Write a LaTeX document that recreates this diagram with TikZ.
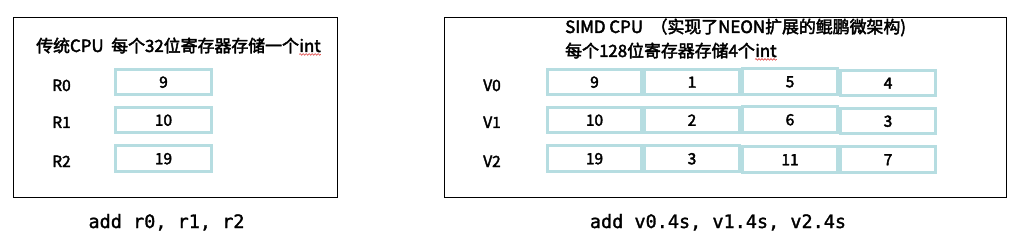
\documentclass[tikz,border=0pt]{standalone}
\usepackage{fontspec}
\setmainfont{Noto Sans CJK SC}[RawFeature={embolden=2.5}]
\setmonofont{DejaVu Sans Mono}[RawFeature={embolden=1.5}]
\usetikzlibrary{decorations.pathmorphing}
\definecolor{cellc}{HTML}{B6DDE1}
\definecolor{squig}{HTML}{E03C3C}
\begin{document}
\begin{tikzpicture}[x=1pt,y=-1pt,
  panel/.style={draw=black, line width=0.9pt, anchor=north west, inner sep=0pt},
  cell/.style={draw=cellc, line width=3pt, inner sep=0pt, minimum height=25.5pt,
    text height=11.5pt, text depth=0pt, font=\fontsize{15.5}{15.5}\selectfont},
  reglabel/.style={anchor=base, inner sep=0pt, font=\fontsize{15.5}{15.5}\selectfont},
  titletext/.style={anchor=base west, inner sep=0pt, font=\fontsize{16.9}{16.9}\selectfont},
  code/.style={anchor=base, inner sep=0pt, font=\ttfamily\fontsize{18.5}{18.5}\selectfont},
  spell/.style={draw=squig, line width=0.6pt, decorate,
    decoration={snake, amplitude=0.8pt, segment length=3pt}}]
\useasboundingbox (0,0) rectangle (1035,235);
\fill[white] (0,0) rectangle (1035,235);

% left panel
\node[panel, minimum width=324pt, minimum height=180pt] (lp) at (13,17) {};
\node[titletext] (lt) at (36,52) {传统CPU\ \ 每个32位寄存器存储一个};
\node[titletext, anchor=base west] (lti) at (lt.base east) {int};
\draw[spell] ([yshift=-2pt]lti.south west) -- ([yshift=-2pt]lti.south east);

\node[cell, minimum width=96pt] (r0) at (163.5,82) {9};
\node[cell, minimum width=96pt] (r1) at (163.5,120) {10};
\node[cell, minimum width=96pt] (r2) at (163.5,158.5) {19};
\node[reglabel] (lr0) at (61.5,91) {R0};
\node[reglabel] (lr1) at (61.5,128) {R1};
\node[reglabel] (lr2) at (61.5,167) {R2};

\node[code] (lc) at (166.5,228) {add r0, r1, r2};

% right panel
\node[panel, minimum width=562pt, minimum height=180pt] (rp) at (444,17) {};
\node[titletext] (rt1) at (565,33) {SIMD CPU\ \ （实现了NEON扩展的鲲鹏微架构)};
\node[titletext] (rt2) at (565,57) {每个128位寄存器存储4个};
\node[titletext, anchor=base west] (rti) at (rt2.base east) {int};
\draw[spell] ([yshift=-2pt]rti.south west) -- ([yshift=-2pt]rti.south east);

\node[cell, minimum width=94.5pt] (v00) at (594.5,82) {9};
\node[cell, minimum width=95pt] (v01) at (692,82) {1};
\node[cell, minimum width=95pt] (v02) at (790,81.5) {5};
\node[cell, minimum width=95pt] (v03) at (888,83) {4};

\node[cell, minimum width=94.5pt] (v10) at (594.5,120) {10};
\node[cell, minimum width=95pt] (v11) at (692,120) {2};
\node[cell, minimum width=95pt] (v12) at (790,119.5) {6};
\node[cell, minimum width=95pt] (v13) at (888,121) {3};

\node[cell, minimum width=94.5pt] (v20) at (594.5,158.5) {19};
\node[cell, minimum width=95pt] (v21) at (692,158.5) {3};
\node[cell, minimum width=95pt] (v22) at (790,159.5) {11};
\node[cell, minimum width=95pt] (v23) at (888,159.5) {7};

\node[reglabel] (lv0) at (492,91) {V0};
\node[reglabel] (lv1) at (492,128) {V1};
\node[reglabel] (lv2) at (492,167) {V2};

\node[code] (rc) at (718,228) {add v0.4s, v1.4s, v2.4s};
\end{tikzpicture}
\end{document}
